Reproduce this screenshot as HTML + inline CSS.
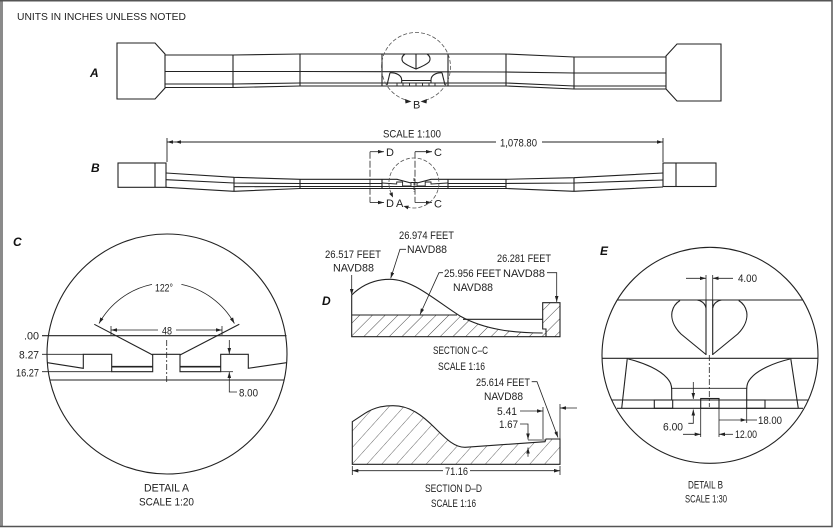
<!DOCTYPE html>
<html><head><meta charset="utf-8"><style>
html,body{margin:0;padding:0;background:#fff;}
svg{display:block;}
.t{font-family:"Liberation Sans Narrow","Liberation Sans",sans-serif;font-size:11px;fill:#222;}
.u{font-family:"Liberation Sans Narrow","Liberation Sans",sans-serif;font-size:10px;fill:#222;}
.L{font-family:"Liberation Sans",sans-serif;font-size:12px;font-weight:bold;font-style:italic;fill:#111;}
</style></head><body>
<svg width="834" height="529" viewBox="0 0 834 529" xmlns="http://www.w3.org/2000/svg">
<defs>
<marker id="ah" viewBox="0 0 10 6" refX="10" refY="3" markerWidth="6" markerHeight="3.6" orient="auto" markerUnits="userSpaceOnUse"><path d="M0,0 L10,3 L0,6 Z" fill="#222"/></marker>
<pattern id="h1" patternUnits="userSpaceOnUse" width="9" height="9" patternTransform="rotate(45)"><line x1="0" y1="0" x2="0" y2="9" stroke="#333" stroke-width="0.9"/></pattern>
<pattern id="h2" patternUnits="userSpaceOnUse" width="11" height="11" patternTransform="rotate(42)"><line x1="0" y1="0" x2="0" y2="11" stroke="#555" stroke-width="0.9"/></pattern>
</defs>
<rect width="834" height="529" fill="#fff"/>
<!-- frame -->
<rect x="0" y="0" width="3" height="527" fill="#8a8a8a"/>
<path d="M0,0.75 H832 V526.5 H0" fill="none" stroke="#555" stroke-width="1.5"/>

<text class="u" x="17" y="20" textLength="169" lengthAdjust="spacingAndGlyphs">UNITS IN INCHES UNLESS NOTED</text>

<!-- ===== DRAWING A ===== -->
<text class="L" x="90" y="77">A</text>
<g stroke="#222" stroke-width="1.1" fill="none">
<path d="M117,43 L155,43 L165,54 L165,88 L155,99 L117,99 Z"/>
<path d="M666,56 L677,44 L721,44 L721,101 L677,101 L666,89 Z"/>
<path d="M165,55 L233,55 L300,54 L506,54 L574,57 L666,57"/>
<path d="M165,71.5 L233,71.5 L300,71.5 L506,72 L574,73 L666,73"/>
<path d="M165,84 L233,84 L300,83 L506,83 L574,86 L666,86"/>
<path d="M165,87.5 L233,87.5 L300,86 L506,86 L574,89 L666,89"/>
<line x1="233" y1="55" x2="233" y2="87.5"/>
<line x1="300" y1="54" x2="300" y2="86"/>
<line x1="382" y1="54" x2="382" y2="86"/>
<line x1="448" y1="54" x2="448" y2="86"/>
<line x1="506" y1="54" x2="506" y2="86"/>
<line x1="574" y1="57" x2="574" y2="89"/>
<!-- center details -->
<path d="M405,54 C402,56 401,59 403,62 C406,65 411,67 416,69 C421,67 426,65 429,62 C431,59 430,56 427,54"/>
<line x1="416" y1="54" x2="416" y2="69"/>
<path d="M390,72.7 C396,72.7 401.7,75 401.7,80 L401.7,83"/>
<path d="M442,72.7 C436,72.7 431,75 431,80 L431,83"/>
<line x1="390" y1="72.7" x2="387" y2="85"/>
<line x1="442" y1="72.7" x2="445" y2="85"/>
<line x1="401.7" y1="80.5" x2="431" y2="80.5"/>
<path d="M397,83V86 M403,83V86 M409.5,83V86 M416,83V86 M422.5,83V86 M429,83V86 M435,83V86" stroke-width="0.9"/>
</g>
<path d="M405,99.7 A34.5,34.5 0 1 1 427,99.7" fill="none" stroke="#555" stroke-width="0.8" stroke-dasharray="4,2"/>
<path d="M411.5,101.5 L405,99 L405.5,103.5 Z M420.5,101.5 L427,99 L426.5,103.5 Z" fill="#222"/>
<text class="t" x="413" y="108.5">B</text>

<!-- ===== DRAWING B ===== -->
<text class="L" x="91" y="172">B</text>
<text class="t" x="383" y="137.5" textLength="58" lengthAdjust="spacingAndGlyphs">SCALE 1:100</text>
<g stroke="#222" stroke-width="0.9" fill="none">
<line x1="167" y1="138" x2="167" y2="162"/>
<line x1="663" y1="138" x2="663" y2="162"/>
<line x1="496" y1="142" x2="175" y2="142" marker-end="url(#ah)"/>
<line x1="175" y1="142" x2="167" y2="142" marker-end="url(#ah)"/>
<line x1="542" y1="142" x2="663" y2="142" marker-end="url(#ah)"/>
</g>
<text class="t" x="500" y="146.5" textLength="37" lengthAdjust="spacingAndGlyphs">1,078.80</text>
<g stroke="#222" stroke-width="1.1" fill="none">
<rect x="118" y="163" width="48" height="24.3"/>
<line x1="155" y1="163" x2="155" y2="187.3"/>
<rect x="663" y="163" width="53" height="23.5"/>
<line x1="676" y1="163" x2="676" y2="186.5"/>
<path d="M166,173 L234,177.3 L300,179.3 L397,179.3 L411,183 M417,183 L431,179.3 L506,179.3 L574,177.7 L663,173"/>
<path d="M166,179.7 L234,183 L300,183.5 L382,183.5 M448,183.5 L506,183.5 L574,183 L663,180"/>
<path d="M234,186.7 L300,186.5 L506,186.5"/>
<path d="M166,187.3 L234,191.3 L300,188.5 L506,188.5 L574,191.3 L663,187"/>
<line x1="234" y1="177.3" x2="234" y2="191.3"/>
<line x1="300" y1="179.3" x2="300" y2="188.5"/>
<line x1="382" y1="179.3" x2="382" y2="188.5"/>
<line x1="448" y1="179.3" x2="448" y2="188.5"/>
<line x1="506" y1="179.3" x2="506" y2="188.5"/>
<line x1="574" y1="177.7" x2="574" y2="191.3"/>
<path d="M382,183 L396.7,184 L396.7,182 L402.6,182 L402.6,186 L411,186 L411,182.5 L417,182.5 L417,186 L425.2,186 L425.2,182 L431,182 L431,184 L448,183" stroke-width="0.9"/>
</g>
<!-- section markers -->
<g stroke="#222" stroke-width="0.8" fill="none">
<line x1="370" y1="151.7" x2="370" y2="202.5" stroke-dasharray="7,2"/>
<line x1="415" y1="151.7" x2="415" y2="202.5" stroke-dasharray="7,2"/>
<line x1="370" y1="151.7" x2="384" y2="151.7" marker-end="url(#ah)"/>
<line x1="370" y1="202.5" x2="384" y2="202.5" marker-end="url(#ah)"/>
<line x1="415" y1="151.7" x2="432" y2="151.7" marker-end="url(#ah)"/>
<line x1="415" y1="202.5" x2="432" y2="202.5" marker-end="url(#ah)"/>
<line x1="414" y1="178" x2="414" y2="192" stroke-dasharray="3,1.5"/>
</g>
<path d="M391.3,193.6 A25,25 0 1 1 406.7,206.9" fill="none" stroke="#555" stroke-width="0.8" stroke-dasharray="4,2"/>
<path d="M393,197.5 L392.7,192.2 L389.1,193.8 Z M403.5,206 L408.9,205.6 L407.7,209.4 Z" fill="#222"/>
<text class="t" x="386" y="156">D</text>
<text class="t" x="434" y="156">C</text>
<text class="t" x="386" y="206.8">D</text>
<text class="t" x="396" y="206.8">A</text>
<text class="t" x="434" y="207.5">C</text>

<!-- ===== DETAIL A (C) ===== -->
<text class="L" x="13" y="246">C</text>
<circle cx="167" cy="354" r="120" fill="none" stroke="#222" stroke-width="1.1"/>
<g stroke="#222" stroke-width="1.1" fill="none">
<line x1="42" y1="335.7" x2="286.5" y2="335.7"/>
<line x1="42" y1="354.3" x2="83.3" y2="354.3" stroke-width="0.8"/>
<line x1="42" y1="371.7" x2="111.7" y2="371.7" stroke-width="0.8"/>
<line x1="49.9" y1="380" x2="284.1" y2="380"/>
<path d="M47.5,362.7 L83.3,368.3 L83.3,354.3 L111.7,354.3 L111.7,371.7 L152.7,371.7 L152.7,354.3 L180,354.3 L180,371.7 L220.7,371.7 L220.7,354.3 L248.3,354.3 L248.3,368.3 L286.5,362.7"/>
<line x1="111.7" y1="366.7" x2="152.7" y2="366.7" stroke-width="1.6"/>
<line x1="180" y1="366.7" x2="220.7" y2="366.7" stroke-width="1.6"/>
<line x1="220.7" y1="371.7" x2="233" y2="371.7" stroke-width="0.8"/>
<line x1="94.3" y1="324.3" x2="152.7" y2="355"/>
<line x1="239.3" y1="324.3" x2="180" y2="355"/>
<line x1="166.7" y1="340" x2="166.7" y2="384" stroke-width="0.8" stroke-dasharray="6,2,2,2"/>
</g>
<g stroke="#222" stroke-width="0.8" fill="none">
<path d="M152,284.4 A79,79 0 0 0 99,323.5" marker-end="url(#ah)"/>
<path d="M181.4,284.4 A79,79 0 0 1 234.4,323.5" marker-end="url(#ah)"/>
<line x1="111" y1="326" x2="111" y2="335"/>
<line x1="222" y1="326" x2="222" y2="335"/>
<line x1="158" y1="330" x2="111" y2="330" marker-end="url(#ah)"/>
<line x1="176" y1="330" x2="222" y2="330" marker-end="url(#ah)"/>
<line x1="229.3" y1="340" x2="229.3" y2="354" marker-end="url(#ah)"/>
<polyline points="237,392 229.3,392 229.3,372" marker-end="url(#ah)"/>
</g>
<text class="t" x="24" y="339.5" textLength="15" lengthAdjust="spacingAndGlyphs">.00</text>
<text class="t" x="19" y="358.5" textLength="20" lengthAdjust="spacingAndGlyphs">8.27</text>
<text class="t" x="16" y="376.5" textLength="23" lengthAdjust="spacingAndGlyphs">16.27</text>
<text class="t" x="155" y="291.5" textLength="18" lengthAdjust="spacingAndGlyphs">122°</text>
<text class="t" x="162" y="334.5" textLength="10" lengthAdjust="spacingAndGlyphs">48</text>
<text class="t" x="239" y="396.5" textLength="19" lengthAdjust="spacingAndGlyphs">8.00</text>
<text class="t" x="144" y="491.5" textLength="45" lengthAdjust="spacingAndGlyphs">DETAIL A</text>
<text class="t" x="139" y="505.5" textLength="55" lengthAdjust="spacingAndGlyphs">SCALE 1:20</text>

<!-- ===== SECTION C-C (D) ===== -->
<text class="L" x="322" y="305">D</text>
<path d="M351.7,315 L457,315 L460,316 C485,330 515,333 542.7,333 L542.7,302.7 L560,302.7 L560,336.7 L351.7,336.7 Z" fill="url(#h1)" stroke="none"/>
<g stroke="#222" stroke-width="1.1" fill="none">
<path d="M351.7,295 C362,285 375,279.3 390,279.3 C413,279.3 436,301 460,316 C485,330 515,333 542.7,333"/>
<path d="M351.7,295 L351.7,336.7 L560,336.7 L560,302.7 L542.7,302.7 L542.7,329 L546,329 L546,336.7"/>
<line x1="351.7" y1="315" x2="457" y2="315"/>
<line x1="463" y1="319.3" x2="542.7" y2="319.3"/>
</g>
<g stroke="#222" stroke-width="0.8" fill="none">
<polyline points="406,249.3 400,249.3 390.7,278.3" marker-end="url(#ah)"/>
<line x1="351.7" y1="275" x2="351.7" y2="295" marker-end="url(#ah)"/>
<polyline points="443,272.7 439,272.7 420,314.5" marker-end="url(#ah)"/>
<polyline points="547,272.7 556.7,272.7 556.7,302" marker-end="url(#ah)"/>
</g>
<text class="t" x="399" y="239" textLength="55" lengthAdjust="spacingAndGlyphs">26.974 FEET</text>
<text class="t" x="407" y="253" textLength="40" lengthAdjust="spacingAndGlyphs">NAVD88</text>
<text class="t" x="325" y="258" textLength="56" lengthAdjust="spacingAndGlyphs">26.517 FEET</text>
<text class="t" x="333" y="271.5" textLength="41" lengthAdjust="spacingAndGlyphs">NAVD88</text>
<text class="t" x="444" y="277" textLength="57" lengthAdjust="spacingAndGlyphs">25.956 FEET</text>
<text class="t" x="453" y="291" textLength="40" lengthAdjust="spacingAndGlyphs">NAVD88</text>
<text class="t" x="497" y="262" textLength="54" lengthAdjust="spacingAndGlyphs">26.281 FEET</text>
<text class="t" x="503" y="277" textLength="42" lengthAdjust="spacingAndGlyphs">NAVD88</text>
<text class="t" x="433" y="354" textLength="55" lengthAdjust="spacingAndGlyphs">SECTION C–C</text>
<text class="t" x="438" y="370" textLength="47" lengthAdjust="spacingAndGlyphs">SCALE 1:16</text>

<!-- ===== SECTION D-D ===== -->
<path d="M352.3,421.7 L365,413.3 C375,407 384,405.7 393,405.7 C410,405.7 422,415 435,428 C447,440 455,447.3 465,447.3 L545,441.7 L546,439 L560,439 L560,464.3 L352.3,464.3 Z" fill="url(#h2)" stroke="#222" stroke-width="1.1"/>
<g stroke="#222" stroke-width="0.8" fill="none">
<line x1="352.3" y1="466" x2="352.3" y2="475"/>
<line x1="560" y1="466" x2="560" y2="475"/>
<line x1="443" y1="470.7" x2="352.3" y2="470.7" marker-end="url(#ah)"/>
<line x1="470" y1="470.7" x2="560" y2="470.7" marker-end="url(#ah)"/>
<polyline points="531.7,381.7 537,381.7 558,437.5" marker-end="url(#ah)"/>
<line x1="520" y1="411" x2="543" y2="411" marker-end="url(#ah)"/>
<line x1="543" y1="407" x2="543" y2="439"/>
<line x1="560" y1="404" x2="560" y2="439"/>
<line x1="577" y1="408" x2="560" y2="408" marker-end="url(#ah)"/>
<polyline points="520,424 528,424 528,439.5" marker-end="url(#ah)"/>
<line x1="528" y1="440" x2="545" y2="440"/>
<line x1="528" y1="456.7" x2="528" y2="447.5" marker-end="url(#ah)"/>
</g>
<text class="t" x="476" y="386" textLength="54" lengthAdjust="spacingAndGlyphs">25.614 FEET</text>
<text class="t" x="484" y="400" textLength="39" lengthAdjust="spacingAndGlyphs">NAVD88</text>
<text class="t" x="497" y="415" textLength="20" lengthAdjust="spacingAndGlyphs">5.41</text>
<text class="t" x="499" y="428" textLength="19" lengthAdjust="spacingAndGlyphs">1.67</text>
<text class="t" x="445" y="474.8" textLength="23" lengthAdjust="spacingAndGlyphs">71.16</text>
<text class="t" x="425" y="492" textLength="57" lengthAdjust="spacingAndGlyphs">SECTION D–D</text>
<text class="t" x="431" y="507" textLength="45" lengthAdjust="spacingAndGlyphs">SCALE 1:16</text>

<!-- ===== DETAIL B (E) ===== -->
<text class="L" x="600" y="255">E</text>
<circle cx="710" cy="355.3" r="108" fill="none" stroke="#222" stroke-width="1.1"/>
<g stroke="#222" stroke-width="1.1" fill="none">
<line x1="617" y1="300" x2="803" y2="300"/>
<line x1="602" y1="358.3" x2="818" y2="358.3"/>
<line x1="612" y1="400" x2="808" y2="400"/>
<line x1="617" y1="408.3" x2="803" y2="408.3"/>
<line x1="706" y1="300" x2="706" y2="355"/>
<line x1="712.7" y1="300" x2="712.7" y2="355"/>
<path d="M680,300.5 C676,303 673,307 672,312 C671,318 673,326 681,334 L706,354.5"/>
<path d="M738.7,300.5 C742.7,303 745.7,307 746.7,312 C747.7,318 745.7,326 737.7,334 L712.7,354.5"/>
<path d="M697,300 C701,300.5 705,303 706,308"/>
<path d="M721.7,300 C717.7,300.5 713.7,303 712.7,308"/>
<line x1="627.3" y1="358.3" x2="621.7" y2="408.3"/>
<line x1="790.7" y1="358.3" x2="798.3" y2="408.3"/>
<path d="M628.3,359 C645,363 660,370 667,378 C670.5,382 671.7,385 671.7,390 L671.7,400"/>
<path d="M790,359 C773,363 758,370 751,378 C747.5,382 746.7,385 746.7,390 L746.7,400"/>
<line x1="671.7" y1="388.3" x2="746.7" y2="388.3" stroke-width="0.8"/>
<rect x="654.3" y="400" width="18.4" height="8.3"/>
<rect x="700.7" y="398.5" width="18.3" height="9.8"/>
<rect x="746.7" y="400" width="18.3" height="8.3"/>
<line x1="709.3" y1="355" x2="709.3" y2="407" stroke-width="0.8" stroke-dasharray="6,2,2,2"/>
</g>
<g stroke="#222" stroke-width="0.8" fill="none">
<line x1="706" y1="275" x2="706" y2="300"/>
<line x1="712.7" y1="275" x2="712.7" y2="300"/>
<line x1="686" y1="278.3" x2="706" y2="278.3" marker-end="url(#ah)"/>
<line x1="733" y1="278.3" x2="712.7" y2="278.3" marker-end="url(#ah)"/>
<line x1="693.3" y1="382" x2="693.3" y2="399" marker-end="url(#ah)"/>
<polyline points="688.3,423.3 693.3,423.3 693.3,409.5" marker-end="url(#ah)"/>
<line x1="700.7" y1="408.3" x2="700.7" y2="437"/>
<line x1="719" y1="408.3" x2="719" y2="437"/>
<line x1="746.7" y1="408.3" x2="746.7" y2="423"/>
<line x1="719" y1="420" x2="746.7" y2="420" marker-end="url(#ah)"/>
<line x1="757" y1="420" x2="747" y2="420"/>
<line x1="683" y1="434.3" x2="700.7" y2="434.3" marker-end="url(#ah)"/>
<line x1="733" y1="434.3" x2="719" y2="434.3" marker-end="url(#ah)"/>
</g>
<text class="t" x="738" y="282" textLength="19" lengthAdjust="spacingAndGlyphs">4.00</text>
<text class="t" x="663" y="430.5" textLength="20" lengthAdjust="spacingAndGlyphs">6.00</text>
<text class="t" x="758" y="424" textLength="24" lengthAdjust="spacingAndGlyphs">18.00</text>
<text class="t" x="735" y="438" textLength="22" lengthAdjust="spacingAndGlyphs">12.00</text>
<text class="t" x="688" y="488.5" textLength="35" lengthAdjust="spacingAndGlyphs">DETAIL B</text>
<text class="t" x="685" y="502.5" textLength="42" lengthAdjust="spacingAndGlyphs">SCALE 1:30</text>
</svg>
</body></html>
